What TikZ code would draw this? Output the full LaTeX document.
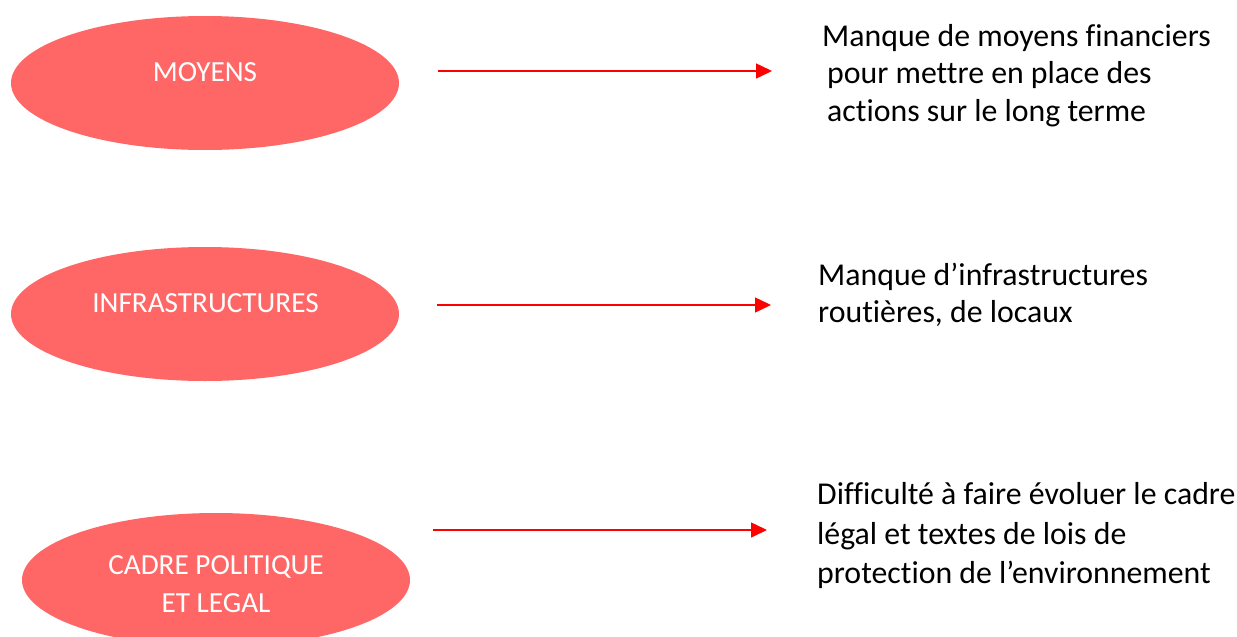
\documentclass[tikz,border=0pt]{standalone}
\usepackage{fontspec}
\setmainfont{Carlito}[Ligatures={NoCommon}]
\usetikzlibrary{arrows.meta,shapes.geometric}
\definecolor{ellfill}{HTML}{FF6666}
\definecolor{arrred}{HTML}{FF0000}
\tikzset{
  ell/.style={ellipse, fill=ellfill, draw=none, minimum width=388pt, minimum height=134pt, inner sep=0pt},
  elltext/.style={anchor=base, text=white, inner sep=0pt, font=\fontsize{29.2}{38}\selectfont},
  sidetext/.style={anchor=base west, text=black, inner sep=0pt, font=\fontsize{31.8}{38}\selectfont},
  redarrow/.style={draw=arrred, line width=1.5pt, -{Triangle[length=16pt,width=15pt]}}
}
\begin{document}
\begin{tikzpicture}[x=1pt,y=-1pt]
\useasboundingbox (0,0) rectangle (1237,637);
\clip (0,0) rectangle (1237,637);
% ellipses
\node[ell] (e1) at (205,83) {};
\node[ell] (e2) at (205,314) {};
\node[ell] (e3) at (216,580) {};
% ellipse labels
\node[elltext] (l1) at (205,81) {MOYENS};
\node[elltext] (l2) at (205.5,312) {INFRASTRUCTURES};
\node[elltext] (l3a) at (216,574) {CADRE POLITIQUE};
\node[elltext] (l3b) at (216,612) {ET LEGAL};
% arrows
\coordinate (a1s) at (438,71);  \coordinate (a1e) at (772,71);
\coordinate (a2s) at (437,305); \coordinate (a2e) at (771,305);
\coordinate (a3s) at (433,530); \coordinate (a3e) at (767,530);
\draw[redarrow] (a1s) -- (a1e);
\draw[redarrow] (a2s) -- (a2e);
\draw[redarrow] (a3s) -- (a3e);
% side texts
\node[sidetext] (t1a) at (822,46) {Manque de moyens financiers};
\node[sidetext] (t1b) at (827,83.5) {pour mettre en place des};
\node[sidetext] (t1c) at (827,121) {actions sur le long terme};
\node[sidetext] (t2a) at (818,285) {Manque d’infrastructures};
\node[sidetext] (t2b) at (818,322) {routières, de locaux};
\node[sidetext] (t3a) at (817,504) {Difficulté à faire évoluer le cadre};
\node[sidetext] (t3b) at (817,544) {légal et textes de lois de};
\node[sidetext] (t3c) at (817,583) {protection de l’environnement};
\end{tikzpicture}
\end{document}
